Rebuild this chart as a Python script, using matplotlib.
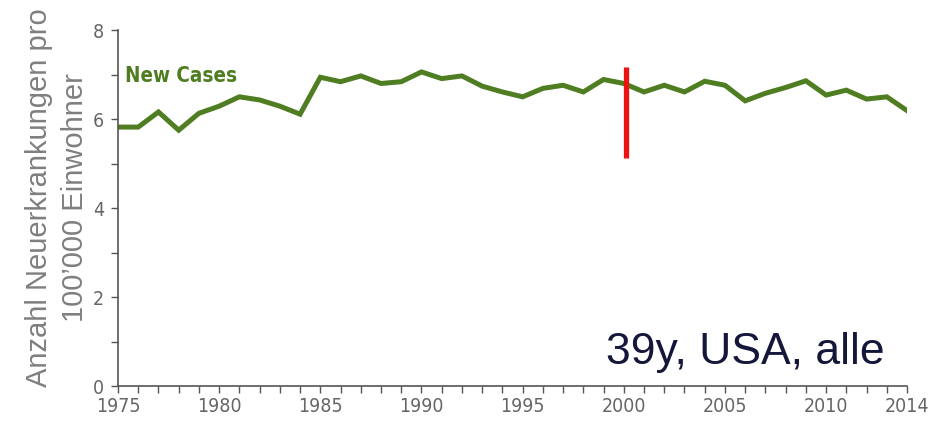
import numpy as np
import matplotlib
matplotlib.use("Agg")
import matplotlib.pyplot as plt

years = np.arange(1975, 2015)
new_cases = [5.82, 5.82, 6.16, 5.75, 6.13, 6.29, 6.50, 6.43, 6.29, 6.11,
             6.94, 6.84, 6.97, 6.80, 6.84, 7.06, 6.91, 6.97, 6.74, 6.61,
             6.50, 6.69, 6.76, 6.61, 6.89, 6.80, 6.61, 6.76, 6.61, 6.85,
             6.76, 6.41, 6.58, 6.71, 6.86, 6.54, 6.65, 6.45, 6.50, 6.19]
xtick_years = [1975, 1980, 1985, 1990, 1995, 2000, 2005, 2010, 2014]
marker_year = 2000.1
marker_range = (5.12, 7.17)


def main():
    fig = plt.figure(figsize=(9.38, 4.24), dpi=100)
    ax = fig.add_axes([0.1258, 0.0896, 0.967 - 0.1258, 0.929 - 0.0896])

    green = '#4f7d22'
    ax.plot(years, new_cases, color=green, lw=3.6, solid_joinstyle='miter')
    ax.plot([marker_year, marker_year], marker_range, color='#ee1111', lw=3.8,
            solid_capstyle='butt')

    ax.text(1975.35, 6.97, 'New Cases', color=green, fontsize=14.8,
            fontweight='bold', fontstretch='condensed', va='center', ha='left')
    ax.text(2012.9, 0.76, '39y, USA, alle', color='#15173a', fontsize=32,
            family='Liberation Sans', ha='right', va='center')

    ax.set_xlim(1975, 2014)
    ax.set_ylim(0, 8)
    for s in ['top', 'right']:
        ax.spines[s].set_visible(False)
    for s in ['left', 'bottom']:
        ax.spines[s].set_color('#555555')
        ax.spines[s].set_linewidth(1.2)

    ax.set_yticks([0, 2, 4, 6, 8])
    ax.set_yticks([1, 3, 5, 7], minor=True)
    ax.set_xticks(xtick_years)
    ax.set_xticks(years, minor=True)
    ax.tick_params(axis='both', which='both', colors='#555555', labelcolor='#666666',
                   labelsize=14, length=5, width=1)
    ax.tick_params(axis='x', pad=3)
    ax.tick_params(axis='y', pad=5)
    for lab in ax.get_xticklabels() + ax.get_yticklabels():
        lab.set_fontstretch('condensed')

    fig.text(0.061, 0.534, 'Anzahl Neuerkrankungen pro\n100\u2019000 Einwohner',
             rotation=90, ha='center', va='center', fontsize=21,
             color='#7f7f7f', family='Liberation Sans', linespacing=1.35)

    fig.savefig('out.png', dpi=100)


if __name__ == "__main__":
    main()
